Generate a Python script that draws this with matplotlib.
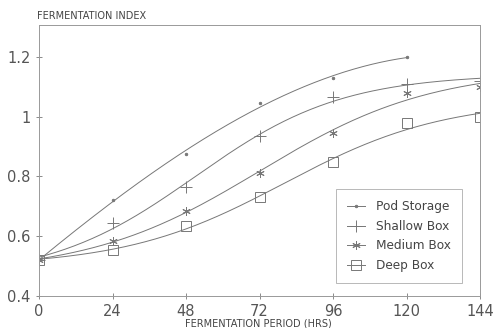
import numpy as np
import matplotlib
matplotlib.use("Agg")
import matplotlib.pyplot as plt

hours = [0, 24, 48, 72, 96, 120, 144]
pod_hours = [0, 24, 48, 72, 96, 120]
pod = [0.52, 0.72, 0.875, 1.047, 1.128, 1.2]
shallow = [0.52, 0.645, 0.765, 0.937, 1.067, 1.108, 1.118]
medium = [0.52, 0.585, 0.685, 0.81, 0.947, 1.08, 1.098]
deep = [0.52, 0.555, 0.635, 0.73, 0.848, 0.979, 1.0]
labels = ["Pod Storage", "Shallow Box", "Medium Box", "Deep Box"]
xticks = [0, 24, 48, 72, 96, 120, 144]
yticks = [0.4, 0.6, 0.8, 1.0, 1.2]
ytick_labels = ["0.4", "0.6", "0.8", "1", "1.2"]


def logistic_fit(x, y, xx):
    x = np.asarray(x, float); y = np.asarray(y, float)
    best = None
    for c in np.linspace(0, 250, 251):
        for s in np.linspace(5, 120, 116):
            g = 1 / (1 + np.exp(-(x - c) / s))
            A = np.column_stack([np.ones_like(x), g])
            coef, *_ = np.linalg.lstsq(A, y, rcond=None)
            r = np.sum((A @ coef - y) ** 2)
            if best is None or r < best[0]:
                best = (r, c, s, coef)
    _, c, s, coef = best
    return coef[0] + coef[1] / (1 + np.exp(-(xx - c) / s))


def poly_fit(x, y, xx, deg=3):
    return np.polyval(np.polyfit(x, y, deg), xx)


fig = plt.figure(figsize=(4.93, 3.28), dpi=100)
ax = fig.add_axes([39/493, 1 - 296/328, 441/493, 271/328])
lc = "#777777"
tc = "#444444"

series = [(pod_hours, pod, ".", 3.5, poly_fit), (hours, shallow, "+", 8, logistic_fit),
          (hours, medium, (6, 2, 0), 6, logistic_fit), (hours, deep, "s", 6.5, logistic_fit)]
for (xs, ys, m, ms, fit), lab in zip(series, labels):
    xs = np.array(xs, float); ys = np.array(ys, float)
    xx = np.linspace(xs.min(), xs.max(), 300)
    ax.plot(xx, fit(xs, ys, xx), color=lc, lw=0.7)
    fc = "none" if m == "s" else lc
    ax.plot(xs, ys, linestyle="none", marker=m, ms=ms, mfc=fc, mec=lc, mew=0.7)
    ax.plot([], [], color=lc, lw=0.7, marker=m, ms=ms, mfc=fc, mec=lc, mew=0.7, label=lab)

ax.set_xlim(0, 144)
ax.set_ylim(0.4, 1.307)
ax.set_xticks(xticks)
ax.set_xticklabels([str(v) for v in xticks])
ax.set_yticks(yticks)
ax.set_yticklabels(ytick_labels)
ax.tick_params(direction="inout", length=5, width=0.6, colors=lc, labelcolor="#555555", labelsize=10.5)
ax.tick_params(axis="x", pad=3)
for s in ax.spines.values():
    s.set_color("#999999"); s.set_linewidth(0.7)

fig.text(37/493, 1 - 16/328, "FERMENTATION INDEX", fontsize=7, color=tc, va="center", ha="left")
fig.text(258/493, 1 - 324/328, "FERMENTATION PERIOD (HRS)", fontsize=7, color=tc, va="center", ha="center")

leg = ax.legend(loc="lower right", bbox_to_anchor=(462/493, 1 - 283/328), bbox_transform=fig.transFigure,
                borderaxespad=0, frameon=True, fancybox=False, edgecolor="#999999", fontsize=8.7,
                labelspacing=0.55, handlelength=1.5, borderpad=0.9, handletextpad=0.9)
leg.get_frame().set_linewidth(0.6)
for t in leg.get_texts():
    t.set_color(tc)

fig.savefig("out.png", dpi=100, facecolor="white")
